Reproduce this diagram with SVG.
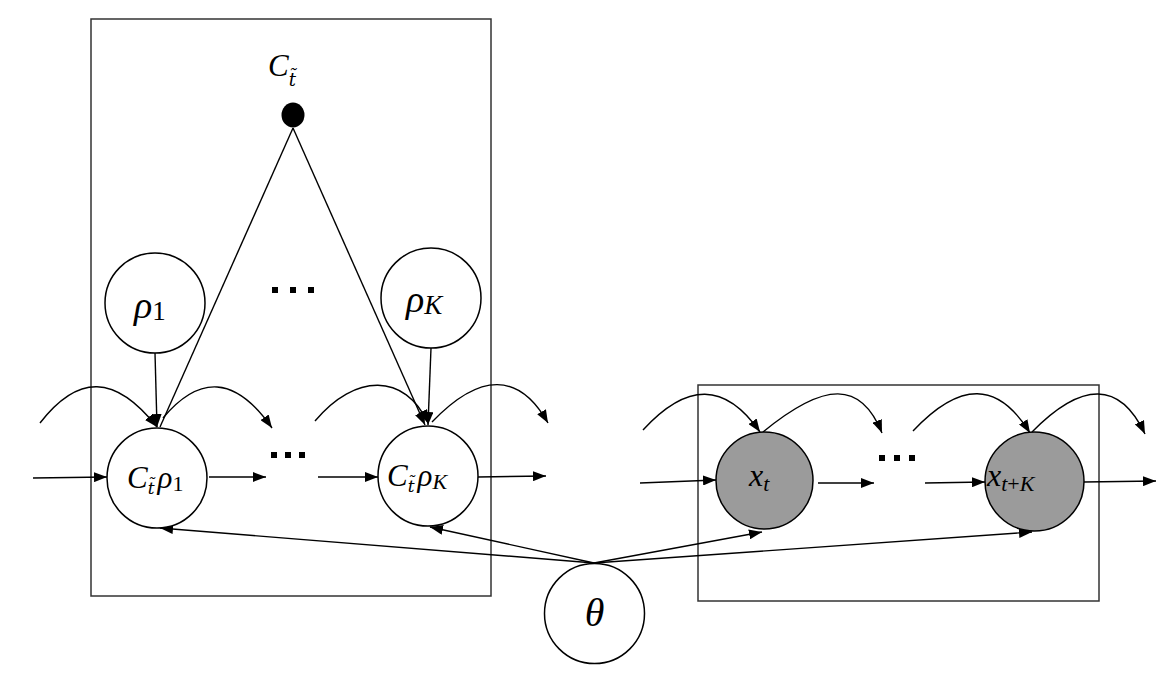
<svg xmlns="http://www.w3.org/2000/svg" width="1164" height="682" viewBox="0 0 1164 682">
<defs>
<marker id="ah" markerUnits="userSpaceOnUse" markerWidth="13" markerHeight="10" refX="13" refY="5" orient="auto">
<path d="M0,0 L13,5 L0,10 z" fill="#000"/>
</marker>
<style>
.plate{fill:none;stroke:#333;stroke-width:1.5}
.node{fill:#fff;stroke:#000;stroke-width:1.5}
.obs{fill:#9b9b9b;stroke:#000;stroke-width:1.5}
.e{fill:none;stroke:#000;stroke-width:1.4;marker-end:url(#ah)}
.l{fill:none;stroke:#000;stroke-width:1.4}
.m{font-family:"Liberation Serif",serif;font-style:italic;fill:#000}
.r{font-style:normal}
.td{font-family:"DejaVu Serif",serif;font-style:italic}
.dots{fill:#000}
</style>
</defs>
<rect class="plate" x="91" y="19" width="400" height="577"/>
<rect class="plate" x="698" y="385" width="401" height="216"/>
<g id="connectors">
<line class="l" x1="293" y1="128" x2="160" y2="427"/>
<line class="e" x1="293" y1="128" x2="425" y2="425"/>
<line class="e" x1="155" y1="353" x2="157" y2="427"/>
<line class="e" x1="431" y1="348" x2="428" y2="425"/>
<path class="e" d="M40,423 C78,374 115,374 157,427"/>
<path class="e" d="M163,418 C199,375 235,375 272,428"/>
<path class="e" d="M315,421 C355,373 405,373 428,423"/>
<path class="e" d="M432,422 C480,372 519,372 548,423"/>
<path class="e" d="M643,430 C687,382 725,382 760,432"/>
<path class="e" d="M763,432 C825,381 861,381 882,433"/>
<path class="e" d="M913,431 C960,381 998,381 1030,433"/>
<path class="e" d="M1032,432 C1082,381 1120,381 1145,434"/>
<line class="e" x1="33" y1="478" x2="107" y2="477"/>
<line class="e" x1="209" y1="477" x2="266" y2="477"/>
<line class="e" x1="318" y1="477" x2="378" y2="477"/>
<line class="e" x1="478" y1="477" x2="546" y2="476"/>
<line class="e" x1="640" y1="483" x2="716" y2="480"/>
<line class="e" x1="818" y1="483" x2="874" y2="483"/>
<line class="e" x1="925" y1="483" x2="985" y2="482"/>
<line class="e" x1="1084" y1="482" x2="1156" y2="481"/>
<line class="e" x1="594" y1="563" x2="160" y2="528"/>
<line class="e" x1="594" y1="563" x2="430" y2="527"/>
<line class="e" x1="594" y1="563" x2="762" y2="532"/>
<line class="e" x1="594" y1="563" x2="1032" y2="532"/>
</g>
<g id="Ct">
<ellipse cx="293" cy="115" rx="11.5" ry="12.5" fill="#000"/>
<text class="m" x="268" y="76" font-size="31">C<tspan class="td" font-size="18" dy="10">t̃</tspan></text>
</g>
<g id="rho1">
<circle class="node" cx="155" cy="303" r="50"/>
<text class="m" x="134" y="318" font-size="38">ρ<tspan class="r" font-size="27" dy="2">1</tspan></text>
</g>
<g id="rhoK">
<circle class="node" cx="431" cy="298" r="50"/>
<text class="m" x="406" y="312" font-size="38">ρ<tspan font-size="27" dy="2">K</tspan></text>
</g>
<g id="Crho1">
<circle class="node" cx="157" cy="478" r="50"/>
<text class="m" x="127" y="488" font-size="31">C<tspan class="td" font-size="17" dy="6">t̃</tspan><tspan dx="3" dy="-6">ρ</tspan><tspan class="r" font-size="22" dy="3">1</tspan></text>
</g>
<g id="CrhoK">
<circle class="node" cx="428" cy="476" r="50"/>
<text class="m" x="387" y="486" font-size="31">C<tspan class="td" font-size="17" dy="6">t̃</tspan><tspan dx="3" dy="-6">ρ</tspan><tspan font-size="22" dy="3">K</tspan></text>
</g>
<g id="xt">
<circle class="obs" cx="764.5" cy="480.5" r="48.5"/>
<text class="m" x="749" y="486" font-size="32">x<tspan font-size="22" dy="5">t</tspan></text>
</g>
<g id="xtK">
<circle class="obs" cx="1034.5" cy="481.5" r="49.5"/>
<text class="m" x="987" y="486" font-size="32">x<tspan font-size="22" dy="5">t<tspan class="r">+</tspan>K</tspan></text>
</g>
<g id="theta">
<circle class="node" cx="594.5" cy="613.5" r="50"/>
<text class="m" x="594.5" y="626" font-size="40" text-anchor="middle">θ</text>
</g>
<g class="dots">
<rect x="272" y="287" width="6" height="6"/><rect x="290" y="287" width="6" height="6"/><rect x="308" y="287" width="6" height="6"/>
<rect x="271" y="452" width="6" height="6"/><rect x="285" y="452" width="6" height="6"/><rect x="299" y="452" width="6" height="6"/>
<rect x="879" y="455" width="6" height="6"/><rect x="894" y="455" width="6" height="6"/><rect x="909" y="455" width="6" height="6"/>
</g>
</svg>
